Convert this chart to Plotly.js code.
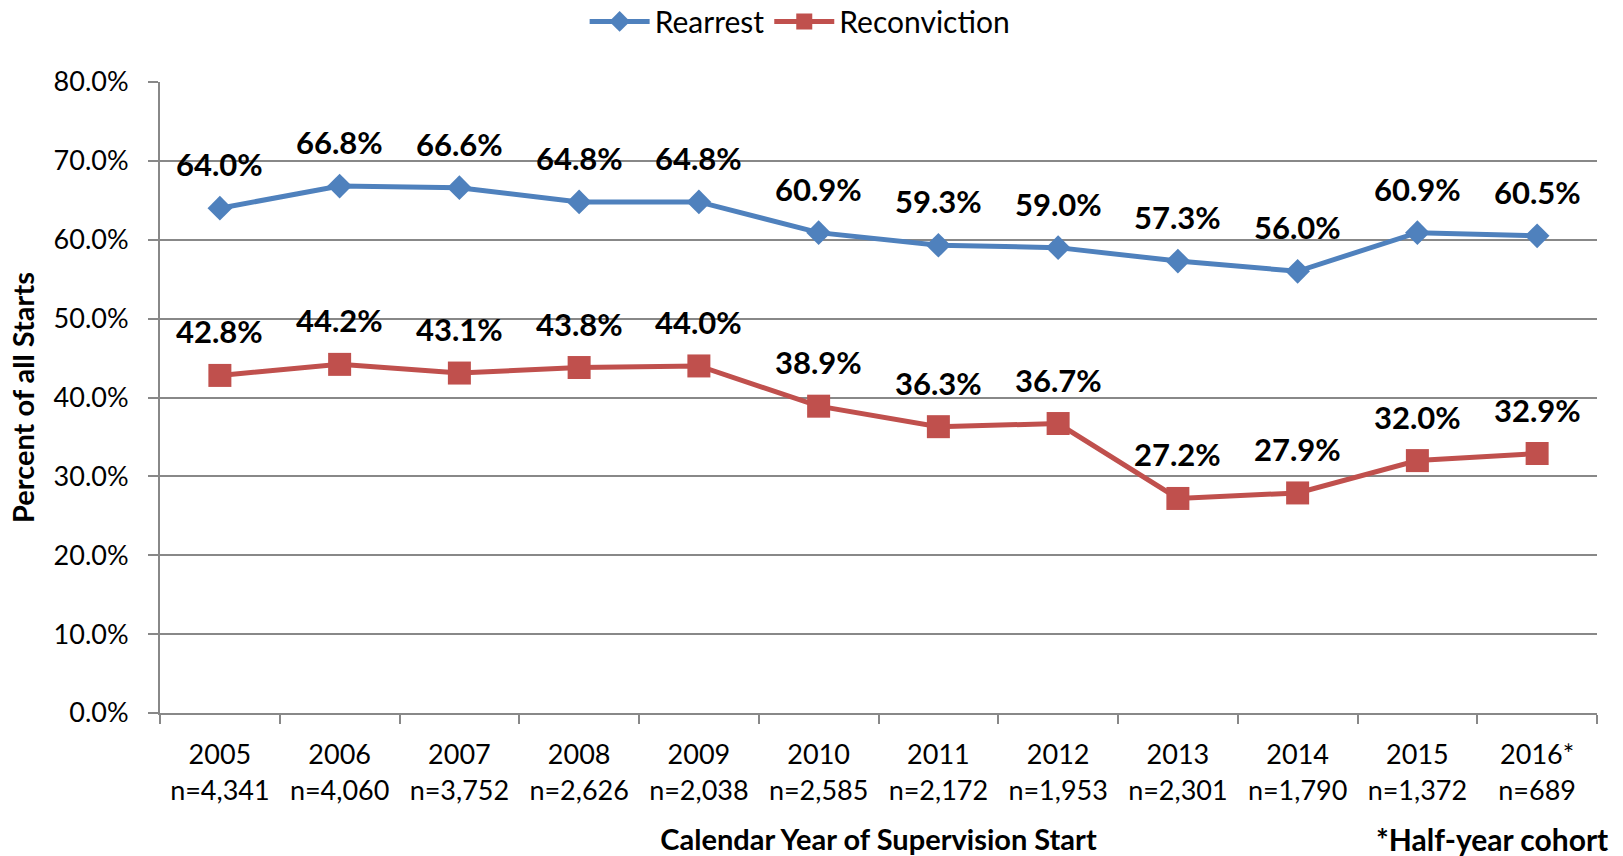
<!DOCTYPE html>
<html>
<head>
<meta charset="utf-8">
<script src="https://cdn.plot.ly/plotly-3.0.1.min.js"></script>
<style>html,body{margin:0;padding:0;background:#fff;}#chart{width:1623px;height:856px;}</style>
</head>
<body>
<div id="chart"></div>
<script>
var years = ["2005","2006","2007","2008","2009","2010","2011","2012","2013","2014","2015","2016*"];
var counts = ["n=4,341","n=4,060","n=3,752","n=2,626","n=2,038","n=2,585","n=2,172","n=1,953","n=2,301","n=1,790","n=1,372","n=689"];
var rearrest = [64.0,66.8,66.6,64.8,64.8,60.9,59.3,59.0,57.3,56.0,60.9,60.5];
var reconviction = [42.8,44.2,43.1,43.8,44.0,38.9,36.3,36.7,27.2,27.9,32.0,32.9];
var yTicks = [0,10,20,30,40,50,60,70,80];

var FONT = "Lato, 'Open Sans', sans-serif";
var BLUE = "#4F81BD", RED = "#C0504D";

var tickText = years.map(function(y,i){ return y + "<br>" + counts[i]; });

var traces = [
  {x: years, y: rearrest, name: "Rearrest", type: "scatter", mode: "lines+markers",
   line: {color: BLUE, width: 5}, marker: {symbol: "diamond", size: 19, color: BLUE}, cliponaxis: false},
  {x: years, y: reconviction, name: "Reconviction", type: "scatter", mode: "lines+markers",
   line: {color: RED, width: 5}, marker: {symbol: "square", size: 23, color: RED}, cliponaxis: false}
];

var annotations = [];
[rearrest, reconviction].forEach(function(series){
  series.forEach(function(v,i){
    annotations.push({x: i, y: v, xref: "x", yref: "y", text: "<b>" + v.toFixed(1) + "%</b>",
      showarrow: false, yshift: 44, font: {family: FONT, size: 31, color: "#000"}});
  });
});
annotations.push({xref: "paper", yref: "paper", x: 1.009, xanchor: "right", y: 0, yanchor: "middle",
  yshift: -126, text: "<b>*Half-year cohort</b>", showarrow: false,
  font: {family: FONT, size: 30, color: "#000"}});

var layout = {
  width: 1623, height: 856,
  margin: {l: 160, r: 26, t: 82, b: 143, pad: 0},
  paper_bgcolor: "#fff", plot_bgcolor: "#fff",
  font: {family: FONT, color: "#000"},
  hovermode: false,
  showlegend: true,
  legend: {orientation: "h", xref: "container", yref: "container", x: 0.493, xanchor: "center",
    y: 0.975, yanchor: "middle", font: {family: FONT, size: 30, color: "#000"}, bgcolor: "rgba(0,0,0,0)",
    itemwidth: 60, tracegroupgap: 0},
  xaxis: {type: "category", range: [-0.5, 11.5], tickmode: "array", tickvals: years, ticktext: tickText,
    tickson: "boundaries", ticks: "outside", ticklen: 9, tickcolor: "#888", tickwidth: 2,
    ticklabelstandoff: 17,
    showline: true, linecolor: "#888", linewidth: 2, showgrid: false, zeroline: false,
    tickfont: {family: FONT, size: 27, color: "#000"},
    title: {text: "<b>Calendar Year of Supervision Start</b>", font: {family: FONT, size: 29, color: "#000"}, standoff: 25}},
  yaxis: {range: [0, 80], tickmode: "array", tickvals: yTicks,
    ticktext: yTicks.map(function(t){ return t.toFixed(1) + "%"; }),
    ticks: "outside", ticklen: 10, tickcolor: "#888", tickwidth: 2, ticklabelstandoff: 14,
    showline: true, linecolor: "#888", linewidth: 2, showgrid: true, gridcolor: "#888", gridwidth: 2,
    zeroline: false, tickfont: {family: FONT, size: 27, color: "#000"},
    title: {text: "<b>Percent of all Starts</b>", font: {family: FONT, size: 29, color: "#000"}, standoff: 10}},
  annotations: annotations
};

Plotly.newPlot("chart", traces, layout, {staticPlot: true, displayModeBar: false});
</script>
</body>
</html>
